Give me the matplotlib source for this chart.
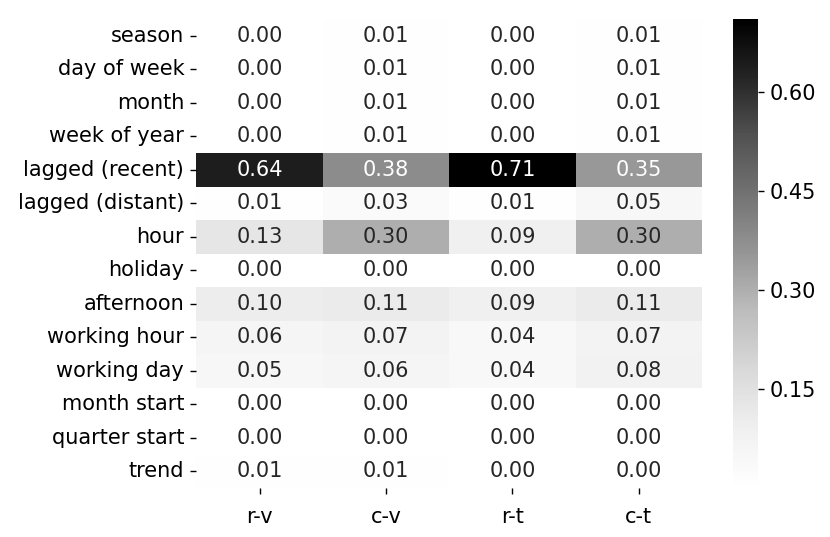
import numpy as np
import pandas as pd
import seaborn as sns
import matplotlib.pyplot as plt
from matplotlib.ticker import FixedLocator, FormatStrFormatter

# feature importances per model / target
features = ['season', 'day of week', 'month', 'week of year', 'lagged (recent)',
            'lagged (distant)', 'hour', 'holiday', 'afternoon', 'working hour',
            'working day', 'month start', 'quarter start', 'trend']
models = ['r-v', 'c-v', 'r-t', 'c-t']

r_v = [0.00, 0.00, 0.00, 0.00, 0.64, 0.01, 0.13, 0.00, 0.10, 0.06, 0.05, 0.00, 0.00, 0.01]
c_v = [0.01, 0.01, 0.01, 0.01, 0.38, 0.03, 0.30, 0.00, 0.11, 0.07, 0.06, 0.00, 0.00, 0.01]
r_t = [0.00, 0.00, 0.00, 0.00, 0.71, 0.01, 0.09, 0.00, 0.09, 0.04, 0.04, 0.00, 0.00, 0.00]
c_t = [0.01, 0.01, 0.01, 0.01, 0.35, 0.05, 0.30, 0.00, 0.11, 0.07, 0.08, 0.00, 0.00, 0.00]

df = pd.DataFrame({'r-v': r_v, 'c-v': c_v, 'r-t': r_t, 'c-t': c_t}, index=features)

plt.rcParams.update({
    'font.size': 15,
    'xtick.major.size': 4.4, 'ytick.major.size': 4.4,
    'xtick.major.pad': 9, 'ytick.major.pad': 4.4,
    'xtick.major.width': 1.0, 'ytick.major.width': 1.0,
})

fig = plt.figure(figsize=(8.3, 5.37), dpi=100)
ax = fig.add_axes([0.2367, 0.0912, 0.609, 0.8734])
cax = fig.add_axes([0.883, 0.0912, 0.030, 0.8734])

sns.heatmap(df, ax=ax, cbar_ax=cax, cmap='Greys', annot=True, fmt='.2f',
            annot_kws={'size': 15})

ax.tick_params(axis='both', labelsize=15)
ax.set_yticklabels(features, rotation=0)
ax.set_xticklabels(models, rotation=0)

cax.yaxis.set_major_locator(FixedLocator([0.15, 0.30, 0.45, 0.60]))
cax.yaxis.set_major_formatter(FormatStrFormatter('%.2f'))
cax.tick_params(labelsize=15)

plt.savefig('out.png', dpi=100)
